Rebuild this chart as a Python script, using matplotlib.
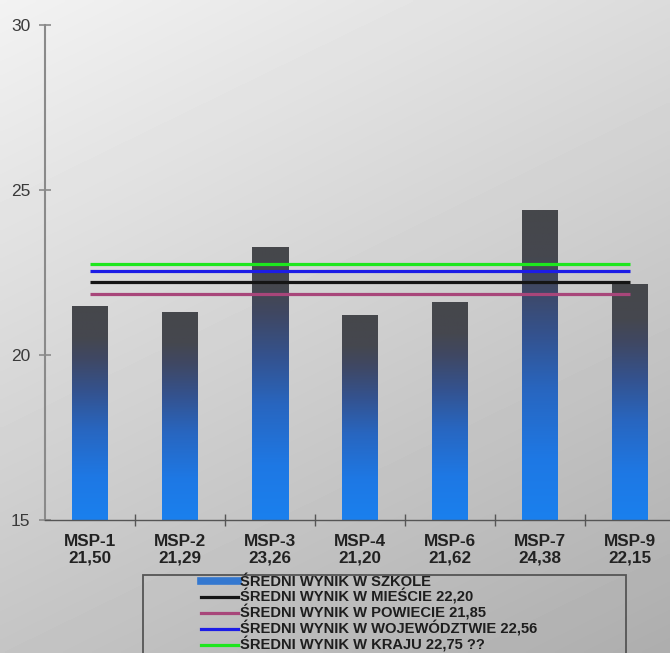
import numpy as np
import matplotlib
matplotlib.use("Agg")
import matplotlib.pyplot as plt
from matplotlib.colors import LinearSegmentedColormap
from matplotlib.lines import Line2D
from matplotlib.patches import Rectangle

# ---- data ----
categories = ["MSP-1", "MSP-2", "MSP-3", "MSP-4", "MSP-6", "MSP-7", "MSP-9"]
school_scores = [21.50, 21.29, 23.26, 21.20, 21.62, 24.38, 22.15]
ref_values = [22.20, 21.85, 22.56, 22.75]
ref_labels = ["ŚREDNI WYNIK W MIEŚCIE 22,20",
              "ŚREDNI WYNIK W POWIECIE 21,85",
              "ŚREDNI WYNIK W WOJEWÓDZTWIE 22,56",
              "ŚREDNI WYNIK W KRAJU 22,75 ??"]
bar_label = "ŚREDNI WYNIK W SZKOLE"
y_ticks = [15, 20, 25, 30]

ref_colors = ["#151515", "#a8467a", "#1c1ce6", "#1ee61e"]
FONT = ["Liberation Sans", "DejaVu Sans"]

W, H = 670, 653
fig = plt.figure(figsize=(W / 100, H / 100), dpi=100)

# background gradient
bg = fig.add_axes([0, 0, 1, 1], zorder=-10)
gx, gy = np.meshgrid(np.linspace(0, 1, 200), np.linspace(0, 1, 200))
val = 0.95 - 0.09 * gx - 0.18 * gy
bg.imshow(val, cmap="gray", vmin=0, vmax=1, aspect="auto",
          extent=(0, 1, 1, 0), interpolation="bilinear")
bg.set_xlim(0, 1); bg.set_ylim(1, 0)
bg.axis("off")

ax = fig.add_axes([45 / W, 133 / H, 630 / W, 495 / H])
ax.patch.set_alpha(0)
n = len(categories)
x = np.arange(n)

bar_cmap = LinearSegmentedColormap.from_list(
    "bar", [(0.0, "#1a80ee"), (0.2, "#1e78e4"), (0.42, "#2866c0"),
            (0.6, "#34528e"), (0.75, "#3f4864"), (0.85, "#45474f"),
            (1.0, "#46474b")])
bars = ax.bar(x, [v - 15 for v in school_scores], bottom=15, width=0.4,
              color="none", edgecolor="none", zorder=2)
grad = np.linspace(0, 1, 256).reshape(-1, 1)
for b in bars:
    x0, y0 = b.get_x(), b.get_y()
    im = ax.imshow(grad, cmap=bar_cmap, origin="lower", aspect="auto",
                   extent=(x0, x0 + b.get_width(), y0, y0 + b.get_height()),
                   zorder=2, interpolation="bilinear")
    im.set_clip_path(b)
ax.set_xlim(-0.5, n - 0.5)
ax.set_ylim(15, 30)

for v, c in zip(ref_values, ref_colors):
    ax.hlines(v, 0, n - 1, colors=c, lw=2.3, zorder=3)

for s in ["top", "right"]:
    ax.spines[s].set_visible(False)
ax.spines["left"].set_color("#8a8a8a")
ax.spines["left"].set_linewidth(1.5)
ax.spines["bottom"].set_color("#555555")
ax.spines["bottom"].set_linewidth(1.0)

ax.set_yticks(y_ticks)
ax.set_yticklabels([str(t) for t in y_ticks], fontsize=12.5,
                   family=FONT, color="#3a3a3a")
ax.tick_params(axis="y", direction="inout", length=9, width=1.2,
               colors="#8a8a8a", labelcolor="#3a3a3a", pad=6)

ax.set_xticks(np.arange(n) + 0.5)
ax.set_xticklabels([])
ax.tick_params(axis="x", which="major", direction="inout", length=9,
               width=1.0, colors="#555555")
ax.set_xticks(x, minor=True)
ax.set_xticklabels([f"{c}\n{v:.2f}".replace(".", ",")
                    for c, v in zip(categories, school_scores)],
                   minor=True, fontsize=12.3, fontweight="bold",
                   family=FONT, color="#222222", linespacing=1.1)
ax.tick_params(axis="x", which="minor", length=0, pad=10)

# legend
handles = [Line2D([], [], color="#3478d0", lw=5.5)]
handles += [Line2D([], [], color=c, lw=2.3) for c in ref_colors]
labels = [bar_label] + ref_labels
leg = fig.legend(handles, labels, loc="upper left",
                 bbox_to_anchor=(201 / W, 1 - 575 / H),
                 frameon=False, borderpad=0, borderaxespad=0,
                 handlelength=2.5, handletextpad=0.15, labelspacing=0.0,
                 prop={"family": FONT, "weight": "bold", "size": 10.6})
for t in leg.get_texts():
    t.set_color("#1e1e1e")

fig.add_artist(Rectangle((143 / W, -0.05), (626 - 143) / W,
                         (H - 575) / H + 0.05, transform=fig.transFigure,
                         fill=False, edgecolor="#555555", lw=1.3))

fig.savefig("out.png", dpi=100)
